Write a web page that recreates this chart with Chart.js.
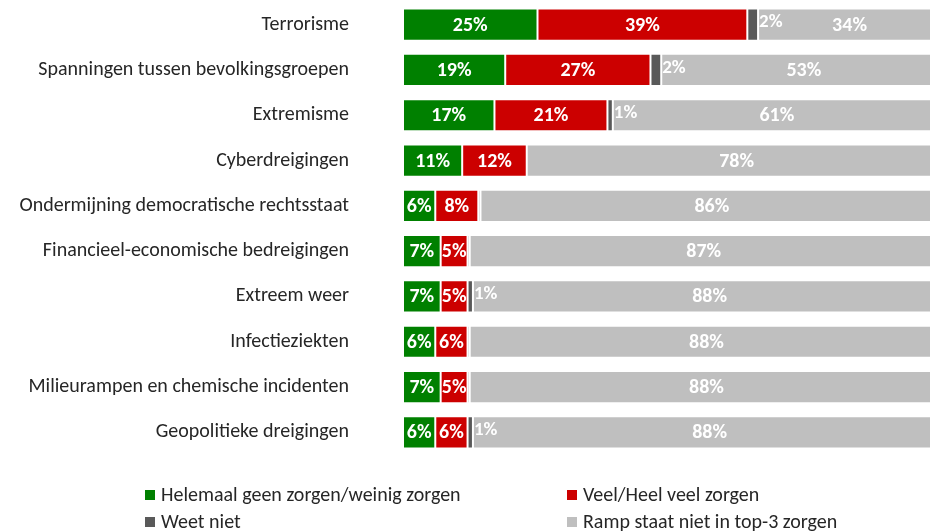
<!DOCTYPE html>
<html>
<head>
<meta charset="utf-8">
<script src="https://cdn.jsdelivr.net/npm/chart.js@4.4.1/dist/chart.umd.min.js"></script>
<style>
  html, body { margin: 0; padding: 0; background: #fff; overflow: hidden; }
  #wrap { position: relative; width: 945px; height: 531px; }
  #legend { position: absolute; left: 0; top: 0; font-family: "Carlito", "Lato", sans-serif; font-size: 20px; color: #262626; }
  .item { position: absolute; white-space: nowrap; line-height: 24px; }
  .box { display: inline-block; width: 10px; height: 10px; margin-right: 6px; vertical-align: 1px; }
</style>
</head>
<body>
<div id="wrap">
  <canvas id="chartOne" width="945" height="531"></canvas>
  <div id="legend"></div>
</div>
<script>
var categories = [
    "Terrorisme",
    "Spanningen tussen bevolkingsgroepen",
    "Extremisme",
    "Cyberdreigingen",
    "Ondermijning democratische rechtsstaat",
    "Financieel-economische bedreigingen",
    "Extreem weer",
    "Infectieziekten",
    "Milieurampen en chemische incidenten",
    "Geopolitieke dreigingen"
]
var geenZorgen = [25, 19, 17, 11, 6, 7, 7, 6, 7, 6]
var veelZorgen = [39, 27, 21, 12, 8, 5, 5, 6, 5, 6]
var weetNiet = [2, 2, 1, 0, 0.4, 0.4, 1, 0.4, 0.4, 1]
var nietTop3 = [34, 53, 61, 78, 86, 87, 88, 88, 88, 88]

var fontFamily = "Carlito, Lato, sans-serif"

// draws the percentage labels on the segments
var segmentLabels = {
    id: "segmentLabels",
    afterDatasetsDraw: function (chart) {
        var ctx = chart.ctx
        ctx.save()
        ctx.fillStyle = "#ffffff"
        ctx.textBaseline = "middle"
        chart.data.datasets.forEach(function (ds, i) {
            var meta = chart.getDatasetMeta(i)
            meta.data.forEach(function (bar, j) {
                var v = ds.data[j]
                if (v < 1) return
                if (i === 2) {
                    ctx.font = "bold 19px " + fontFamily
                    ctx.textAlign = "left"
                    ctx.fillText(v + "%", bar.x + 1, bar.y - 2)
                } else {
                    ctx.font = "bold 20px " + fontFamily
                    ctx.textAlign = "center"
                    ctx.fillText(v + "%", (bar.x + bar.base) / 2, bar.y + 1)
                }
            })
        })
        ctx.restore()
    }
}

var getChartOne = document.getElementById("chartOne")

var chartOne = new Chart(getChartOne, {
    type: "bar",
    data: {
        labels: categories,
        datasets: [{
            label: "Helemaal geen zorgen/weinig zorgen",
            data: geenZorgen,
            backgroundColor: "#008000"
        }, {
            label: "Veel/Heel veel zorgen",
            data: veelZorgen,
            backgroundColor: "#CC0000"
        }, {
            label: "Weet niet",
            data: weetNiet,
            backgroundColor: "#595959"
        }, {
            label: "Ramp staat niet in top-3 zorgen",
            data: nietTop3,
            backgroundColor: "#BFBFBF"
        }]
    },
    options: {
        indexAxis: "y",
        responsive: false,
        animation: false,
        layout: { padding: { top: 2, right: 4, bottom: 76, left: 0 } },
        datasets: {
            bar: {
                barPercentage: 0.71,
                categoryPercentage: 1,
                borderColor: "#ffffff",
                borderWidth: 1,
                borderSkipped: false
            }
        },
        scales: {
            x: {
                stacked: true,
                display: false,
                min: 0,
                max: 100
            },
            y: {
                stacked: true,
                grid: { display: false },
                border: { display: false },
                ticks: {
                    color: "#262626",
                    padding: 46,
                    font: { family: fontFamily, size: 20 }
                },
                afterFit: function (scale) {
                    scale.width = 403
                    // the tick padding would otherwise push the bars down
                    scale.paddingTop = 0
                    scale.paddingBottom = 0
                }
            }
        },
        plugins: {
            legend: { display: false },
            tooltip: { enabled: false }
        }
    },
    plugins: [segmentLabels]
})

// legend in two columns, built from the chart datasets
var legendBox = document.getElementById("legend")
var legendPos = [[145, 482], [567, 482], [145, 509], [567, 509]]
chartOne.data.datasets.forEach(function (ds, i) {
    var item = document.createElement("div")
    item.className = "item"
    item.style.left = legendPos[i][0] + "px"
    item.style.top = legendPos[i][1] + "px"
    var box = document.createElement("span")
    box.className = "box"
    box.style.background = ds.backgroundColor
    item.appendChild(box)
    item.appendChild(document.createTextNode(ds.label))
    legendBox.appendChild(item)
})
</script>
</body>
</html>
